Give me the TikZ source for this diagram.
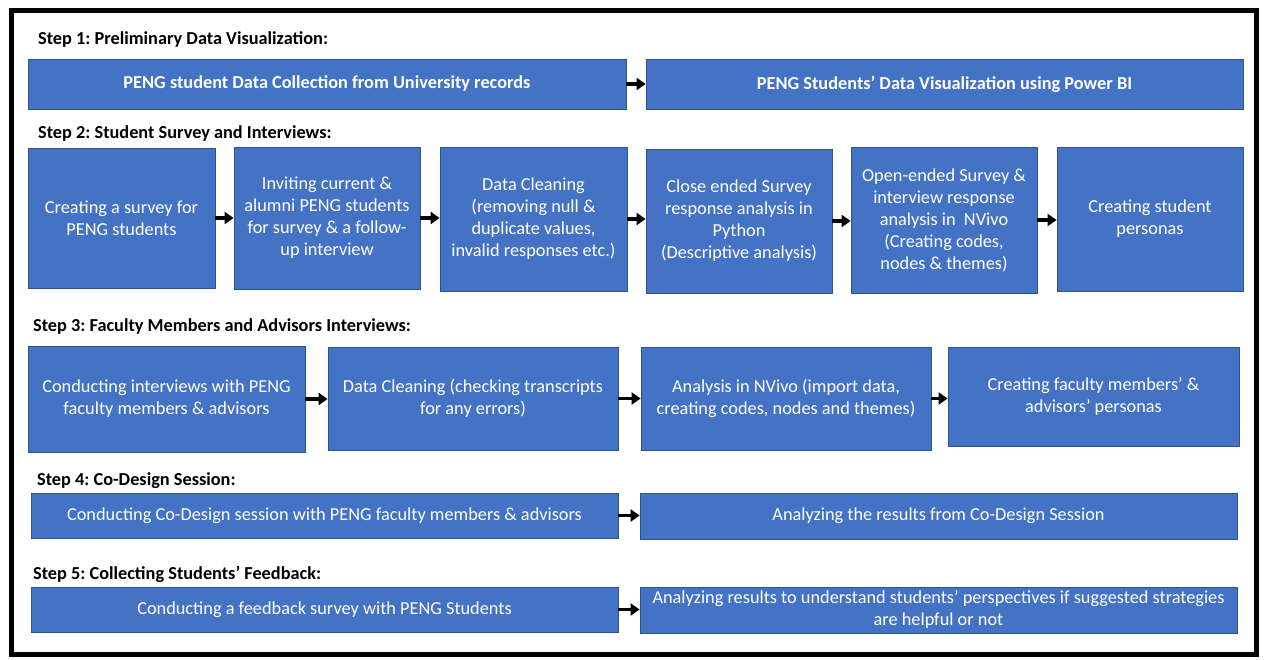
\documentclass[tikz,border=0pt]{standalone}
\usepackage{fontspec}
\setmainfont{Carlito}
\frenchspacing
\usetikzlibrary{arrows.meta}
\definecolor{boxblue}{HTML}{4472C4}
\definecolor{boxedge}{HTML}{2F528F}
\tikzset{
  stepbox/.style={draw=boxedge, line width=0.8pt, fill=boxblue, text=white, align=center,
    inner sep=1pt, font=\fontsize{18.3}{22}\selectfont},
  boxsize/.style 2 args={minimum width=#1pt, minimum height=#2pt},
  steptitle/.style={anchor=west, inner sep=0pt, font=\bfseries\fontsize{18.3}{20}\selectfont},
  flow/.style={-{Triangle[length=9pt,width=12pt]}, line width=3.5pt}
}
\begin{document}
\begin{tikzpicture}[x=1pt, y=-1pt]
  \useasboundingbox (0,0) rectangle (1265,659);
  % Frame
  \draw[line width=5pt] (11,10) rectangle (1256,654);

  % Step 1
  \node[steptitle] (t1) at (38,40) {Step 1: Preliminary Data Visualization:};
  \node[stepbox, boxsize={598}{50}, font=\bfseries\fontsize{18.3}{22}\selectfont] (s1a) at (327,84) {PENG student Data Collection from University records};
  \node[stepbox, boxsize={597}{50}, font=\bfseries\fontsize{18.3}{22}\selectfont] (s1b) at (944.5,84) {PENG Students' Data Visualization using Power BI};

  % Step 2
  \node[steptitle] (t2) at (38,134) {Step 2: Student Survey and Interviews:};
  \node[stepbox, boxsize={187}{140}] (s2a) at (121.5,218) {Creating a survey for\\PENG students};
  \node[stepbox, boxsize={186}{142}] (s2b) at (327,218) {Inviting current \&\\alumni PENG students\\for survey \& a follow-\\up interview};
  \node[stepbox, boxsize={187}{144}] (s2c) at (533.5,219) {Data Cleaning\\(removing null \&\\duplicate values,\\invalid responses etc.)};
  \node[stepbox, boxsize={186}{144}] (s2d) at (739,221) {Close ended Survey\\response analysis in\\Python\\(Descriptive analysis)};
  \node[stepbox, boxsize={186}{146}] (s2e) at (944,220) {Open-ended Survey \&\\interview response\\analysis in~~NVivo\\(Creating codes,\\nodes \& themes)};
  \node[stepbox, boxsize={186}{144}] (s2f) at (1150,219) {Creating student\\personas};

  % Step 3
  \node[steptitle] (t3) at (33,327) {Step 3: Faculty Members and Advisors Interviews:};
  \node[stepbox, boxsize={277}{106}] (s3a) at (166.5,399) {Conducting interviews with PENG\\faculty members \& advisors};
  \node[stepbox, boxsize={290}{103}] (s3b) at (473,398.5) {Data Cleaning (checking transcripts\\for any errors)};
  \node[stepbox, boxsize={290}{103}] (s3c) at (786,398.5) {Analysis in NVivo (import data,\\creating codes, nodes and themes)};
  \node[stepbox, boxsize={291}{99}] (s3d) at (1093.5,396.5) {Creating faculty members' \&\\advisors' personas};

  % Step 4
  \node[steptitle] (t4) at (37,481) {Step 4: Co-Design Session:};
  \node[stepbox, boxsize={587}{45}] (s4a) at (324.5,515.5) {Conducting Co-Design session with PENG faculty members \& advisors};
  \node[stepbox, boxsize={597}{46}] (s4b) at (938.5,516) {Analyzing the results from Co-Design Session};

  % Step 5
  \node[steptitle] (t5) at (33,574) {Step 5: Collecting Students' Feedback:};
  \node[stepbox, boxsize={587}{45}] (s5a) at (324.5,609.5) {Conducting a feedback survey with PENG Students};
  \node[stepbox, boxsize={597}{46}, inner sep=0pt] (s5b) at (938.5,610) {Analyzing results to understand students' perspectives if suggested strategies\\are helpful or not};

  % Arrows
  \draw[flow] (s1a.east) -- (s1a.east -| s1b.west);
  \foreach \a/\b in {s2a/s2b, s2b/s2c, s2c/s2d, s2d/s2e, s2e/s2f, s3a/s3b, s3b/s3c, s3c/s3d, s4a/s4b, s5a/s5b}
    \draw[flow] (\a.east) -- (\a.east -| \b.west);
\end{tikzpicture}
\end{document}
